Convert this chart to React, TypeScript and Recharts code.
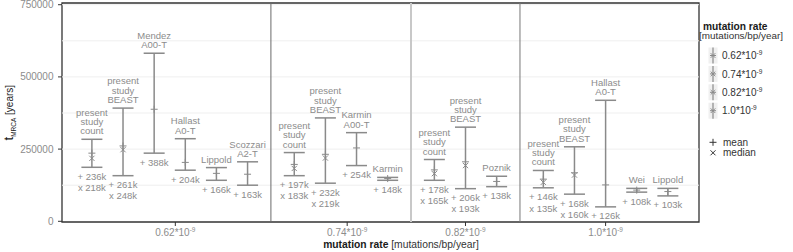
import React from 'react';
import { ComposedChart, Scatter, XAxis, YAxis, ReferenceLine, ReferenceArea } from 'recharts';

// ---------- data ----------
const rateLabels = ['0.62', '0.74', '0.82', '1.0'];
const rateTickSlots = [2.68, 8.2, 12, 16.5];
const groupIndex = [0, 0, 0, 0, 0, 0, 1, 1, 1, 1, 2, 2, 2, 3, 3, 3, 3, 3];
const studyNames = [
  'present\nstudy\ncount', 'present\nstudy\nBEAST', 'Mendez\nA00-T', 'Hallast\nA0-T', 'Lippold', 'Scozzari\nA2-T',
  'present\nstudy\ncount', 'present\nstudy\nBEAST', 'Karmin\nA00-T', 'Karmin',
  'present\nstudy\ncount', 'present\nstudy\nBEAST', 'Poznik',
  'present\nstudy\ncount', 'present\nstudy\nBEAST', 'Hallast\nA0-T', 'Wei', 'Lippold',
];
const meanK = [236, 261, 388, 204, 166, 163, 197, 232, 254, 148, 178, 206, 138, 146, 168, 126, 108, 103];
const medianK: (number | null)[] = [218, 248, null, null, null, null, 183, 219, null, null, 165, 193, null, 135, 160, null, null, null];
const lowK = [187, 158, 236, 177, 142, 125, 158, 132, 193, 142, 142, 113, 120, 116, 94, 50, 101, 88];
const highK = [284, 392, 582, 286, 186, 206, 238, 358, 307, 152, 214, 326, 156, 176, 258, 419, 114, 114];
const yTicks = [0, 250000, 500000, 750000];
const gridValues = [125000, 250000, 375000, 500000, 625000, 750000];

// ---------- derived ----------
const items = meanK.map((m, i) => ({
  slot: i + 0.5 * groupIndex[i],
  name: studyNames[i],
  mean: m,
  median: medianK[i],
  low: lowK[i] * 1000,
  high: highK[i] * 1000,
}));
const highPts = items.map((d) => ({ slot: d.slot, v: d.high, name: d.name }));
const lowPts = items.map((d) => ({ slot: d.slot, v: d.low, mean: d.mean, median: d.median }));
const meanPts = items.map((d) => ({ slot: d.slot, v: d.mean * 1000 }));
const medianPts = items.filter((d) => d.median != null).map((d) => ({ slot: d.slot, v: (d.median as number) * 1000 }));
const dividers: number[] = [];
for (let i = 1; i < items.length; i++) {
  if (groupIndex[i] !== groupIndex[i - 1]) dividers.push((items[i].slot + items[i - 1].slot) / 2);
}
const dividerStyles = [
  { stroke: '#6a6a6a', w: 1 },
  { stroke: '#c8c8c8', w: 2 },
  { stroke: '#777777', w: 1 },
];

const X_DOMAIN: [number, number] = [-0.96, 19.5];
const Y_DOMAIN: [number, number] = [-2400, 755900];

const FONT = '"Liberation Sans", Arial, Helvetica, sans-serif';
const LINE = '#8a8a8a';
const TEXT = '#8c8c8c';

function TopCap(props: any) {
  const { cx, cy, payload } = props;
  if (cx == null || cy == null) return null;
  const lines: string[] = payload.name.split('\n');
  const n = lines.length;
  return (
    <g>
      <line x1={cx - 10.5} x2={cx + 10.5} y1={cy} y2={cy} stroke={LINE} strokeWidth={1.5} />
      <text textAnchor="middle" fontSize={9.5} fill={TEXT} fontFamily={FONT}>
        {lines.map((l, k) => (
          <tspan key={k} x={cx} y={cy - 5 - (n - 1 - k) * 9.3}>{l}</tspan>
        ))}
      </text>
    </g>
  );
}

function BottomCap(props: any) {
  const { cx, cy, payload } = props;
  if (cx == null || cy == null) return null;
  return (
    <g>
      <line x1={cx - 10.5} x2={cx + 10.5} y1={cy} y2={cy} stroke={LINE} strokeWidth={1.5} />
      <text textAnchor="middle" fontSize={9.5} fill={TEXT} fontFamily={FONT}>
        <tspan x={cx} y={cy + 12.5}>{`+ ${payload.mean}k`}</tspan>
        {payload.median != null && <tspan x={cx} y={cy + 23.8}>{`x ${payload.median}k`}</tspan>}
      </text>
    </g>
  );
}

function PlusMark(props: any) {
  const { cx, cy } = props;
  if (cx == null || cy == null) return null;
  return (
    <g stroke={LINE} strokeWidth={1}>
      <line x1={cx - 3.5} x2={cx + 3.5} y1={cy} y2={cy} />
      <line x1={cx} x2={cx} y1={cy - 3.5} y2={cy + 3.5} />
    </g>
  );
}

function CrossMark(props: any) {
  const { cx, cy } = props;
  if (cx == null || cy == null) return null;
  return (
    <g stroke={LINE} strokeWidth={1}>
      <line x1={cx - 2.6} x2={cx + 2.6} y1={cy - 2.6} y2={cy + 2.6} />
      <line x1={cx - 2.6} x2={cx + 2.6} y1={cy + 2.6} y2={cy - 2.6} />
    </g>
  );
}

function RateTick(props: any) {
  const { x, y, payload } = props;
  const idx = rateTickSlots.indexOf(payload.value);
  return (
    <text x={x} y={y + 7.5} textAnchor="middle" fontSize={10} fill={TEXT} fontFamily={FONT}>
      {`${rateLabels[idx]}*10`}
      <tspan dy={-4} fontSize={6.5}>-9</tspan>
    </text>
  );
}

function LegendKey({ x, y }: { x: number; y: number }) {
  return (
    <g>
      <rect x={x - 4.5} y={y - 8} width={9} height={16} fill="#f0f0f0" />
      <line x1={x} x2={x} y1={y - 8} y2={y + 8} stroke={LINE} strokeWidth={1.2} />
      <line x1={x - 3} x2={x + 3} y1={y} y2={y} stroke={LINE} strokeWidth={1} />
      <line x1={x - 2.3} x2={x + 2.3} y1={y - 2.3} y2={y + 2.3} stroke={LINE} strokeWidth={1} />
      <line x1={x - 2.3} x2={x + 2.3} y1={y + 2.3} y2={y - 2.3} stroke={LINE} strokeWidth={1} />
    </g>
  );
}

function Overlay() {
  const legendY = [55.5, 73.9, 92.3, 110.7];
  const kx = 713;
  return (
    <svg width={793} height={252} style={{ position: 'absolute', left: 0, top: 0, pointerEvents: 'none' }} fontFamily={FONT}>
      {/* y-axis title */}
      <text transform="translate(13,112.7) rotate(-90)" textAnchor="middle" fill="#1a1a1a">
        <tspan fontSize={13}>t</tspan>
        <tspan fontSize={6.5} dy={3}>MRCA</tspan>
        <tspan fontSize={10} dy={-3}> [years]</tspan>
      </text>
      {/* x-axis title */}
      <text x={401} y={248} textAnchor="middle" fontSize={10.3} fill="#1a1a1a">
        <tspan fontWeight="bold">mutation rate</tspan>
        <tspan fill="#333"> [mutations/bp/year]</tspan>
      </text>
      {/* legend */}
      <text x={703} y={29.5} fontSize={10.2} fontWeight="bold" fill="#1a1a1a">mutation rate</text>
      <text x={699} y={39} fontSize={9.9} fill="#333">[mutations/bp/year]</text>
      {rateLabels.map((r, i) => (
        <g key={r}>
          <LegendKey x={kx} y={legendY[i]} />
          <text x={722} y={legendY[i] + 3.6} fontSize={10} fill="#333">
            {`${r}*10`}
            <tspan dy={-4} fontSize={6.5}>-9</tspan>
          </text>
        </g>
      ))}
      <g stroke="#333" strokeWidth={1}>
        <line x1={kx - 3.5} x2={kx + 3.5} y1={142.3} y2={142.3} />
        <line x1={kx} x2={kx} y1={138.8} y2={145.8} />
        <line x1={kx - 2.5} x2={kx + 2.5} y1={150.3} y2={155.3} />
        <line x1={kx - 2.5} x2={kx + 2.5} y1={155.3} y2={150.3} />
      </g>
      <text x={723} y={145.9} fontSize={10} fill="#333">mean</text>
      <text x={723} y={156.1} fontSize={10} fill="#333">median</text>
    </svg>
  );
}

export default function App() {
  return (
    <div style={{ position: 'absolute', left: 0, top: 0, width: 793, height: 252, background: '#fff' }}>
      <ComposedChart width={793} height={252} margin={{ top: 3, right: 94, bottom: 0, left: 8 }}>
        <XAxis
          type="number"
          dataKey="slot"
          domain={X_DOMAIN}
          allowDataOverflow
          ticks={rateTickSlots}
          tick={<RateTick />}
          tickSize={4}
          tickMargin={2}
          tickLine={{ stroke: '#333' }}
          axisLine={false}
          height={30}
          interval={0}
        />
        <YAxis
          type="number"
          dataKey="v"
          domain={Y_DOMAIN}
          allowDataOverflow
          ticks={yTicks}
          width={54}
          tickSize={4}
          tickMargin={4.5}
          tickLine={{ stroke: '#333' }}
          axisLine={false}
          tick={{ fontSize: 10, fill: TEXT, fontFamily: FONT }}
          interval={0}
        />
        {gridValues.map((g) => (
          <ReferenceLine key={`g${g}`} y={g} stroke="#efefef" strokeWidth={1} />
        ))}
        {dividers.map((d, i) => (
          <ReferenceLine key={`d${i}`} x={d} stroke={dividerStyles[i].stroke} strokeWidth={dividerStyles[i].w} />
        ))}
        {items.map((d, i) => (
          <ReferenceLine
            key={`s${i}`}
            segment={[{ x: d.slot, y: d.low }, { x: d.slot, y: d.high }]}
            stroke={LINE}
            strokeWidth={1.5}
          />
        ))}
        <Scatter data={highPts} dataKey="v" shape={<TopCap />} isAnimationActive={false} />
        <Scatter data={lowPts} dataKey="v" shape={<BottomCap />} isAnimationActive={false} />
        <Scatter data={meanPts} dataKey="v" shape={<PlusMark />} isAnimationActive={false} />
        <Scatter data={medianPts} dataKey="v" shape={<CrossMark />} isAnimationActive={false} />
        <ReferenceArea y1={Y_DOMAIN[0]} y2={Y_DOMAIN[1]} fill="none" stroke="#333" strokeWidth={1.3} ifOverflow="visible" />
      </ComposedChart>
      <Overlay />
    </div>
  );
}
